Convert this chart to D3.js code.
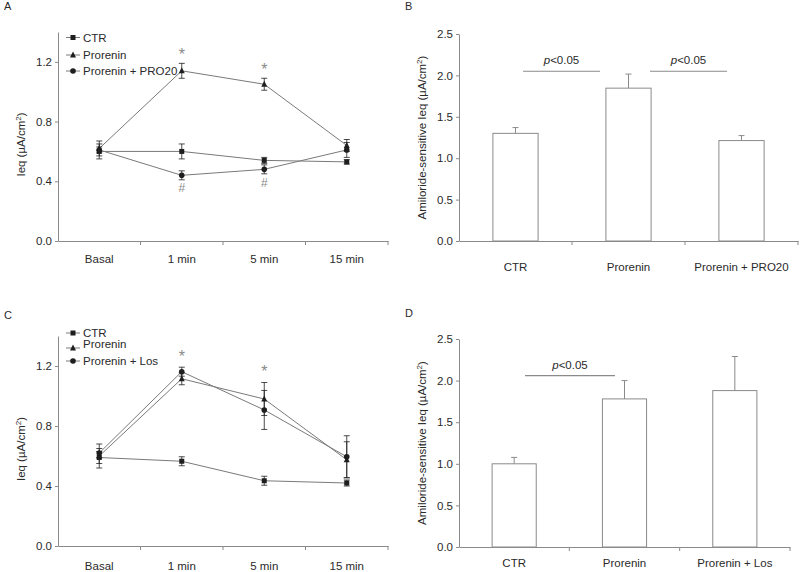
<!DOCTYPE html>
<html><head><meta charset="utf-8">
<script src="https://cdn.jsdelivr.net/npm/d3@7"></script>
<style>
body{margin:0;background:#fff;}
svg{font-family:"Liberation Sans",Arial,sans-serif;}
</style></head><body>
<svg id="c" width="800" height="572"></svg>
<script>
// ---------- Data ----------
const timeCats = ["Basal", "1 min", "5 min", "15 min"];
const yTicksLine = [0.0, 0.4, 0.8, 1.2];
const yTicksBar = [0.0, 0.5, 1.0, 1.5, 2.0, 2.5];

// Panel A
const aCTR = [0.60, 0.60, 0.54, 0.53];
const aCTRerr = [0.03, 0.05, 0.02, 0.015];
const aPro = [0.62, 1.14, 1.05, 0.64];
const aProErr = [0.03, 0.05, 0.04, 0.04];
const aPRO20 = [0.61, 0.44, 0.48, 0.61];
const aPRO20err = [0.06, 0.03, 0.03, 0.05];
const aNames = ["CTR", "Prorenin", "Prorenin + PRO20"];

// Panel C
const cCTR = [0.59, 0.565, 0.435, 0.42];
const cCTRerr = [0.04, 0.03, 0.03, 0.02];
const cPro = [0.60, 1.115, 0.98, 0.575];
const cProErr = [0.08, 0.04, 0.11, 0.12];
const cLos = [0.62, 1.162, 0.907, 0.595];
const cLosErr = [0.03, 0.03, 0.13, 0.14];
const cNames = ["CTR", "Prorenin", "Prorenin + Los"];

// Panel B
const bCats = ["CTR", "Prorenin", "Prorenin + PRO20"];
const bVals = [1.30, 1.846, 1.213];
const bErr = [0.07, 0.17, 0.06];

// Panel D
const dCats = ["CTR", "Prorenin", "Prorenin + Los"];
const dVals = [1.0, 1.78, 1.88];
const dErr = [0.077, 0.22, 0.41];

const svg = d3.select("#c");
const axisCol = "#8a8a8a", lineCol = "#7a7a7a", markCol = "#1e1e1e", txtCol = "#2a2a2a";

function styleAxis(g){
  g.selectAll("path.domain").attr("stroke", axisCol).attr("stroke-width",1);
  g.selectAll(".tick line").attr("stroke", axisCol);
  g.selectAll(".tick text").attr("fill", txtCol).style("font-size","11.5px");
}

function marker(g, type, x, y){
  if(type===0) g.append("rect").attr("x",x-2.5).attr("y",y-2.5).attr("width",5).attr("height",5).attr("fill",markCol);
  else if(type===1) g.append("path").attr("d",`M${x},${y-3.5}L${x+3},${y+2.5}L${x-3},${y+2.5}Z`).attr("fill",markCol);
  else g.append("circle").attr("cx",x).attr("cy",y).attr("r",2.8).attr("fill",markCol);
}

function linePanel(o){
  const g = svg.append("g");
  const x = d3.scaleBand().domain(timeCats).range([o.x0, o.x1]);
  const y = d3.scaleLinear().domain([0,1.4]).range([o.y0, o.y1]);
  const ya = g.append("g").attr("transform",`translate(${o.x0},0)`)
    .call(d3.axisLeft(y).tickValues(yTicksLine).tickFormat(d3.format(".1f")).tickSize(3).tickSizeOuter(0));
  styleAxis(ya);
  const xa = g.append("g").attr("transform",`translate(0,${o.y0})`)
    .call(d3.axisBottom(x).tickSize(0).tickSizeOuter(0).tickPadding(o.pad));
  styleAxis(xa);
  timeCats.forEach((c,i)=>{ if(i>0){ const bx=x(c);
    g.append("line").attr("x1",bx).attr("x2",bx).attr("y1",o.y0).attr("y2",o.y0+4).attr("stroke",axisCol);}});
  g.append("line").attr("x1",o.x1).attr("x2",o.x1).attr("y1",o.y0).attr("y2",o.y0+4).attr("stroke",axisCol);
  const yl = g.append("text").attr("transform",`translate(${o.x0-33},${(o.y0+o.y1)/2+8}) rotate(-90)`)
    .attr("text-anchor","middle").attr("fill",txtCol).style("font-size","11.5px");
  yl.append("tspan").text("Ieq (µA/cm");
  yl.append("tspan").attr("baseline-shift","super").style("font-size","8px").text("2");
  yl.append("tspan").text(")");
  const cx = c => x(c) + x.bandwidth()/2;
  o.series.forEach((s,si)=>{
    const ln = d3.line().x((d,i)=>cx(timeCats[i])).y(d=>y(d));
    g.append("path").datum(s.v).attr("d",ln).attr("fill","none").attr("stroke",lineCol).attr("stroke-width",1);
  });
  o.series.forEach((s,si)=>{
    s.v.forEach((v,i)=>{
      const px = cx(timeCats[i]);
      const e = s.e[i];
      g.append("line").attr("x1",px).attr("x2",px).attr("y1",y(v+e)).attr("y2",y(v-e)).attr("stroke",markCol).attr("stroke-width",0.8);
      [v+e, v-e].forEach(t=>g.append("line").attr("x1",px-3).attr("x2",px+3).attr("y1",y(t)).attr("y2",y(t)).attr("stroke",markCol).attr("stroke-width",0.8));
      marker(g, si, px, y(v));
    });
  });
  o.ann.forEach(a=>{
    g.append("text").attr("x",cx(timeCats[a.i])).attr("y",y(a.v)).attr("text-anchor","middle")
      .attr("fill","#8a8a8a").style("font-size",a.s+"px").text(a.t);
  });
  o.names.forEach((n,i)=>{
    const ly = o.legY[i];
    g.append("line").attr("x1",o.legX).attr("x2",o.legX+14).attr("y1",ly).attr("y2",ly).attr("stroke",lineCol);
    marker(g, i, o.legX+7, ly);
    g.append("text").attr("x",o.legX+17).attr("y",ly+(o.legTextDy? o.legTextDy[i]:4)).attr("fill",txtCol).style("font-size","11.5px").text(n);
  });
  g.append("text").attr("x",o.lx).attr("y",o.ly).attr("fill",txtCol).style("font-size","11px").text(o.label);
}

function barPanel(o){
  const g = svg.append("g");
  const x = d3.scaleBand().domain(o.cats).range([o.x0, o.x1]);
  const y = d3.scaleLinear().domain([0,2.5]).range([o.y0, o.y1]);
  const ya = g.append("g").attr("transform",`translate(${o.x0},0)`)
    .call(d3.axisLeft(y).tickValues(yTicksBar).tickFormat(d3.format(".1f")).tickSize(3).tickSizeOuter(0));
  styleAxis(ya);
  const xa = g.append("g").attr("transform",`translate(0,${o.y0})`)
    .call(d3.axisBottom(x).tickSize(0).tickSizeOuter(0).tickPadding(o.pad));
  styleAxis(xa);
  o.cats.forEach((c,i)=>{ if(i>0){ const bx=x(c);
    g.append("line").attr("x1",bx).attr("x2",bx).attr("y1",o.y0).attr("y2",o.y0+4).attr("stroke",axisCol);}});
  g.append("line").attr("x1",o.x1).attr("x2",o.x1).attr("y1",o.y0).attr("y2",o.y0+4).attr("stroke",axisCol);
  const yl = g.append("text").attr("transform",`translate(${o.x0-33},${(o.y0+o.y1)/2}) rotate(-90)`)
    .attr("text-anchor","middle").attr("fill",txtCol).style("font-size","11.5px");
  yl.append("tspan").text("Amiloride-sensitive Ieq (µA/cm");
  yl.append("tspan").attr("baseline-shift","super").style("font-size","8px").text("2");
  yl.append("tspan").text(")");
  const bw = x.bandwidth()*0.4;
  o.cats.forEach((c,i)=>{
    const cx = x(c)+x.bandwidth()/2;
    const v = o.vals[i], e = o.err[i];
    g.append("line").attr("x1",cx).attr("x2",cx).attr("y1",y(v)).attr("y2",y(v+e)).attr("stroke",axisCol);
    g.append("line").attr("x1",cx-3).attr("x2",cx+3).attr("y1",y(v+e)).attr("y2",y(v+e)).attr("stroke",axisCol);
    g.append("rect").attr("x",cx-bw/2).attr("y",y(v)).attr("width",bw).attr("height",o.y0-y(v))
      .attr("fill","#fff").attr("stroke",axisCol).attr("stroke-width",1);
  });
  o.sig.forEach(s=>{
    g.append("line").attr("x1",s.x1).attr("x2",s.x2).attr("y1",y(s.v)).attr("y2",y(s.v)).attr("stroke",axisCol).attr("stroke-width",1.2);
    const t = g.append("text").attr("x",(s.x1+s.x2)/2).attr("y",y(s.v)-7).attr("text-anchor","middle").attr("fill",txtCol).style("font-size","11.5px");
    t.append("tspan").style("font-style","italic").text("p");
    t.append("tspan").text("<0.05");
  });
  g.append("text").attr("x",o.lx).attr("y",o.ly).attr("fill",txtCol).style("font-size","11px").text(o.label);
}

linePanel({x0:58, x1:388, y0:241, y1:32, pad:14, label:"A", lx:4, ly:10,
  series:[{v:aCTR,e:aCTRerr},{v:aPro,e:aProErr},{v:aPRO20,e:aPRO20err}],
  names:aNames, legX:66, legY:[37.5,55,71],
  ann:[{i:1,v:1.215,t:"*",s:16},{i:2,v:1.115,t:"*",s:16},{i:1,v:0.33,t:"#",s:12},{i:2,v:0.36,t:"#",s:12}]});

barPanel({x0:459, x1:798, y0:241, y1:34, pad:22, cats:bCats, vals:bVals, err:bErr, label:"B", lx:405, ly:10,
  sig:[{x1:523,x2:600,v:2.05},{x1:650,x2:727,v:2.05}]});

linePanel({x0:58, x1:388, y0:546, y1:336, pad:16, label:"C", lx:4, ly:319,
  series:[{v:cCTR,e:cCTRerr},{v:cPro,e:cProErr},{v:cLos,e:cLosErr}],
  names:cNames, legX:66, legY:[333,348,361], legTextDy:[4,0,4],
  ann:[{i:1,v:1.225,t:"*",s:16},{i:2,v:1.125,t:"*",s:16}]});

barPanel({x0:459, x1:790, y0:547, y1:339, pad:12, cats:dCats, vals:dVals, err:dErr, label:"D", lx:405, ly:317,
  sig:[{x1:525,x2:615,v:2.06}]});
</script>
</body></html>
